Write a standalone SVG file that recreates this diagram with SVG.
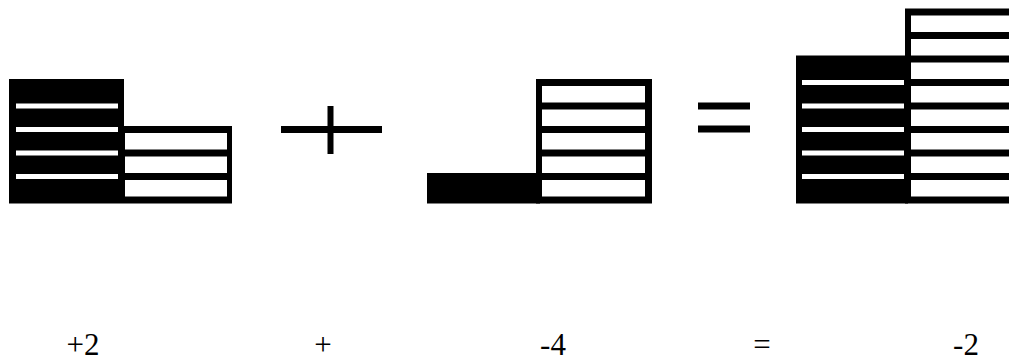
<svg xmlns="http://www.w3.org/2000/svg" width="1009" height="360" viewBox="0 0 1009 360">
<style>
.k{fill:#000}
.w{fill:#fff}
.lbl{font-family:"Liberation Serif","Times New Roman",serif;font-size:31px;fill:#000;text-anchor:middle}
</style>
<rect x="0" y="0" width="1009" height="360" fill="#fff"/>
<g id="term-plus2">
<rect class="k" x="9" y="79" width="115" height="124.5"/>
<rect class="w" x="16" y="103.5" width="102" height="5"/>
<rect class="w" x="16" y="127" width="102" height="5"/>
<rect class="w" x="16" y="150.5" width="102" height="5"/>
<rect class="w" x="16" y="174" width="102" height="5"/>
<rect class="k" x="124" y="126" width="108" height="77.5"/>
<rect class="w" x="125" y="133" width="102" height="16.5"/>
<rect class="w" x="125" y="156.5" width="102" height="16.5"/>
<rect class="w" x="125" y="180" width="102" height="16.5"/>
</g>
<g id="op-plus">
<rect class="k" x="281" y="126" width="101" height="7"/>
<rect class="k" x="327.5" y="106" width="6" height="48"/>
</g>
<g id="term-minus4">
<rect class="k" x="427" y="173" width="113" height="30.5"/>
<rect class="k" x="536" y="79" width="116" height="124.5"/>
<rect class="w" x="542" y="86" width="103" height="16.5"/>
<rect class="w" x="542" y="109.5" width="103" height="16.5"/>
<rect class="w" x="542" y="133" width="103" height="16.5"/>
<rect class="w" x="542" y="156.5" width="103" height="16.5"/>
<rect class="w" x="542" y="180" width="103" height="16.5"/>
</g>
<g id="op-equals">
<rect class="k" x="698" y="102.5" width="52" height="7"/>
<rect class="k" x="698" y="125.5" width="52" height="7"/>
</g>
<g id="result-minus2">
<rect class="k" x="796" y="55.5" width="112" height="148"/>
<rect class="w" x="802" y="80" width="102" height="5"/>
<rect class="w" x="802" y="103.5" width="102" height="5"/>
<rect class="w" x="802" y="127" width="102" height="5"/>
<rect class="w" x="802" y="150.5" width="102" height="5"/>
<rect class="w" x="802" y="174" width="102" height="5"/>
<rect class="k" x="905" y="8.5" width="120" height="195"/>
<rect class="w" x="911" y="15.5" width="120" height="16.5"/>
<rect class="w" x="911" y="39" width="120" height="16.5"/>
<rect class="w" x="911" y="62.5" width="120" height="16.5"/>
<rect class="w" x="911" y="86" width="120" height="16.5"/>
<rect class="w" x="911" y="109.5" width="120" height="16.5"/>
<rect class="w" x="911" y="133" width="120" height="16.5"/>
<rect class="w" x="911" y="156.5" width="120" height="16.5"/>
<rect class="w" x="911" y="180" width="120" height="16.5"/>
</g>
<g id="labels">
<text class="lbl" x="83" y="355">+2</text>
<text class="lbl" x="323" y="355">+</text>
<text class="lbl" x="553" y="355">-4</text>
<text class="lbl" x="762" y="355">=</text>
<text class="lbl" x="966" y="355">-2</text>
</g>
</svg>
